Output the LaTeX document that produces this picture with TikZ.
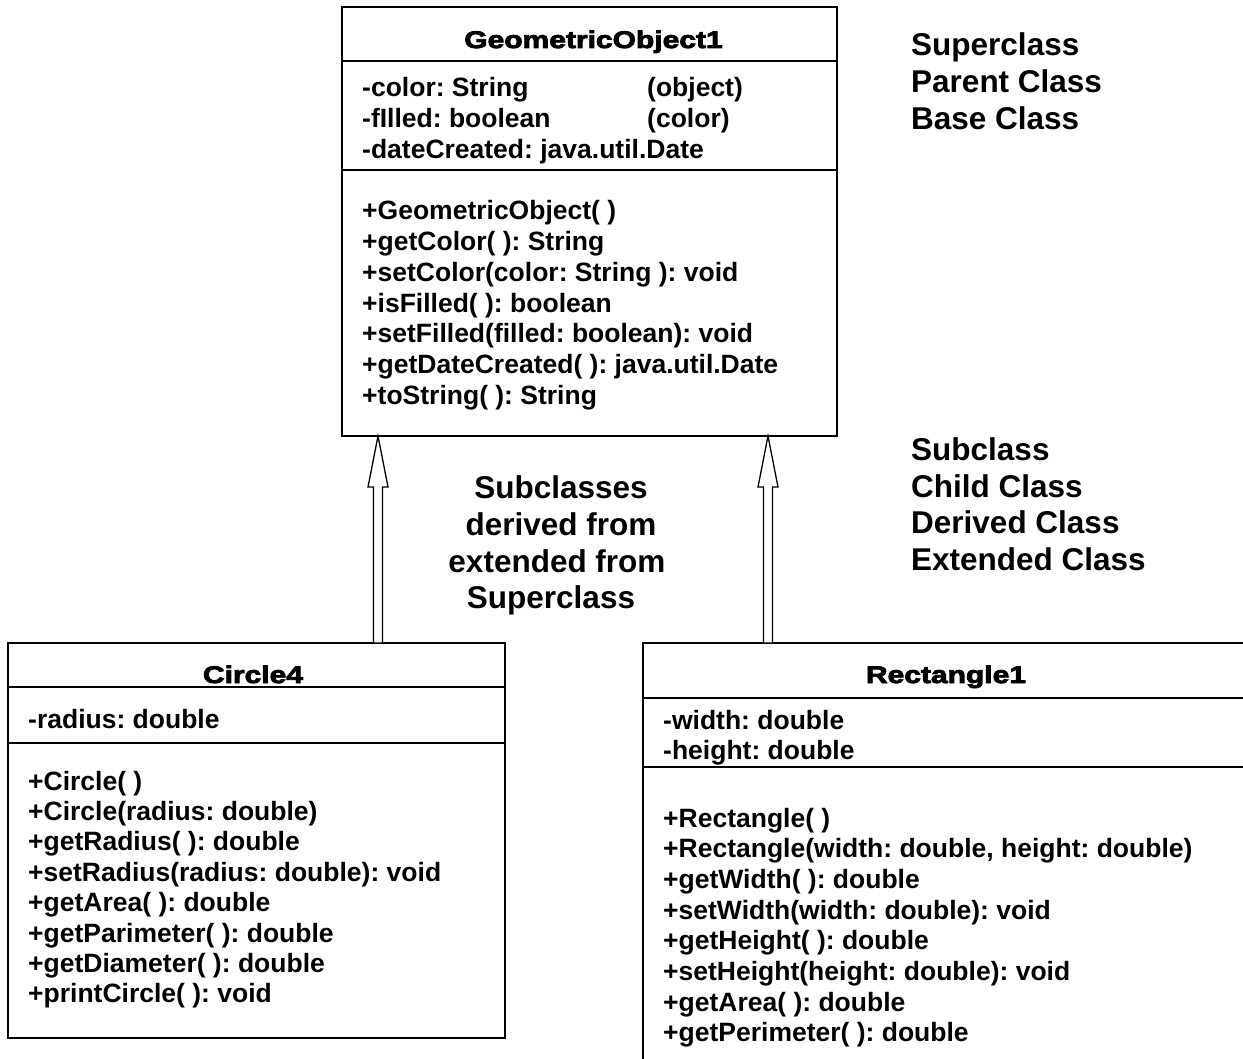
\documentclass[tikz,border=0pt]{standalone}
\usepackage{fontspec}
\setmainfont{Liberation Sans}
\newfontfamily\titlefont{Liberation Sans Bold}[FakeBold=3.5,FakeStretch=1.25]
\usetikzlibrary{calc}
\frenchspacing
\begin{document}
\begin{tikzpicture}[x=1pt,y=-1pt,
  boxline/.style={line width=2pt},
  cls/.style={draw, line width=2pt, anchor=north west, inner sep=0pt, outer sep=0pt},
  txt/.style={anchor=base west, inner sep=0pt, font=\fontsize{26.5}{30}\selectfont\bfseries\frenchspacing},
  ttl/.style={anchor=base, inner sep=0pt, font=\titlefont\fontsize{24}{28}\selectfont},
  lbl/.style={anchor=base west, inner sep=0pt, font=\fontsize{31.5}{36}\selectfont\bfseries},
  clbl/.style={anchor=base, inner sep=0pt, font=\fontsize{31.5}{36}\selectfont\bfseries},
  inh/.style={draw, line width=1.3pt, fill=white, line join=miter}
]
\useasboundingbox (0,0) rectangle (1243,1059);
\clip (0,0) rectangle (1243,1059);

% ---------- GeometricObject1 ----------
\node[cls, minimum width=495pt, minimum height=429pt] (geo) at (342,7) {};
\draw[boxline] ($(geo.north west)+(0,54)$) -- ($(geo.north east)+(0,54)$);
\draw[boxline] ($(geo.north west)+(0,163)$) -- ($(geo.north east)+(0,163)$);
\node[ttl] (geoT) at ($(geo.north)+(4,41)$) {GeometricObject1};
\foreach \t [count=\i] in {{-color: String},{-fIlled: boolean},{-dateCreated: java.util.Date}}
  {\node[txt] (ga\i) at (362, 66.3+\i*30.7) {\t};}
\node[txt] (gx1) at (647,97) {(object)};
\node[txt] (gx2) at (647,128) {(color)};
\foreach \t [count=\i] in {{+GeometricObject( )},{+getColor( ): String},{+setColor(color: String ): void},{+isFilled( ): boolean},{+setFilled(filled: boolean): void},{+getDateCreated( ): java.util.Date},{+toString( ): String}}
  {\node[txt] (gm\i) at (362, 189.3+\i*30.7) {\t};}

% ---------- Circle4 ----------
\node[cls, minimum width=497pt, minimum height=395pt] (circ) at (8,643) {};
\draw[boxline] ($(circ.north west)+(0,44)$) -- ($(circ.north east)+(0,44)$);
\draw[boxline] ($(circ.north west)+(0,100)$) -- ($(circ.north east)+(0,100)$);
\node[ttl] (circT) at (253,683) {Circle4};
\node[txt] (ca1) at (28,728) {-radius: double};
\foreach \t [count=\i] in {{+Circle( )},{+Circle(radius: double)},{+getRadius( ): double},{+setRadius(radius: double): void},{+getArea( ): double},{+getParimeter( ): double},{+getDiameter( ): double},{+printCircle( ): void}}
  {\node[txt] (cm\i) at (28, 759.6+\i*30.4) {\t};}

% ---------- Rectangle1 ----------
\node[cls, minimum width=620pt, minimum height=500pt] (rect) at (643,643) {};
\draw[boxline] ($(rect.north west)+(0,55)$) -- ($(rect.north east)+(0,55)$);
\draw[boxline] ($(rect.north west)+(0,124)$) -- ($(rect.north east)+(0,124)$);
\node[ttl] (rectT) at (946,683) {Rectangle1};
\node[txt] (ra1) at (663,729) {-width: double};
\node[txt] (ra2) at (663,759.5) {-height: double};
\foreach \t [count=\i] in {{+Rectangle( )},{+Rectangle(width: double, height: double)},{+getWidth( ): double},{+setWidth(width: double): void},{+getHeight( ): double},{+setHeight(height: double): void},{+getArea( ): double},{+getPerimeter( ): double}}
  {\node[txt] (rm\i) at (663, 796.3+\i*30.7) {\t};}

% ---------- inheritance arrows ----------
\coordinate (a1tip) at ($(geo.south west)+(36,0)$);
\coordinate (a1base) at ($(circ.north west)+(370,0)$);
\coordinate (a2tip) at ($(geo.south west)+(426,0)$);
\coordinate (a2base) at ($(rect.north west)+(125,0)$);
\draw[inh] (a1tip) -- ++(10,51) -- ++(-5.5,0) -- ($(a1base)+(4.5,0)$) -- ($(a1base)+(-4.5,0)$) -- ($(a1tip)+(-4.5,51)$) -- ++(-5.5,0) -- cycle;
\draw[inh] (a2tip) -- ++(10,51) -- ++(-5.5,0) -- ($(a2base)+(4.5,0)$) -- ($(a2base)+(-4.5,0)$) -- ($(a2tip)+(-4.5,51)$) -- ++(-5.5,0) -- cycle;

% ---------- labels ----------
\node[lbl] (l1) at (911,56) {Superclass};
\node[lbl] (l2) at (911,93) {Parent Class};
\node[lbl] (l3) at (911,130) {Base Class};
\node[lbl] (l4) at (911,460) {Subclass};
\node[lbl] (l5) at (911,497) {Child Class};
\node[lbl] (l6) at (911,533) {Derived Class};
\node[lbl] (l7) at (911,570) {Extended Class};
\node[clbl] (m1) at (561,498) {Subclasses};
\node[clbl] (m2) at (561,535) {derived from};
\node[clbl] (m3) at (557,572) {extended from};
\node[clbl] (m4) at (551,608) {Superclass};
\end{tikzpicture}
\end{document}
